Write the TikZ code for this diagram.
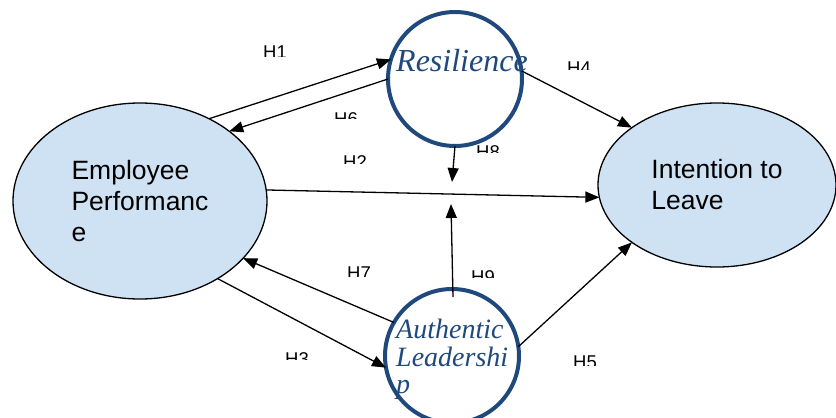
\documentclass[tikz,border=0pt]{standalone}
\usepackage{fontspec}
\setmainfont{Liberation Sans}
\newfontfamily\serifit{Liberation Serif}
\usetikzlibrary{shapes.geometric,arrows.meta,calc}
\definecolor{circblue}{RGB}{31,73,125}
\definecolor{ellfill}{RGB}{207,226,243}
\newcommand\hlab[4]{%
  \begin{scope}
    \clip (#1-3,#2-4) rectangle (#1+34,#3);
    \node[hlab] (#4) at (#1,#2) {#4};
  \end{scope}}
\begin{document}
\begin{tikzpicture}[x=1pt,y=-1pt,
  ell/.style={ellipse,draw=black,line width=1.3pt,fill=ellfill,outer sep=0pt,inner sep=0pt,align=left,font=\fontsize{26.5}{31}\selectfont},
  circ/.style={circle,draw=circblue,line width=4pt,minimum size=134pt,inner sep=0pt,outer sep=0pt},
  ctext/.style={text=circblue,inner sep=0pt,align=left},
  arr/.style={line width=1.3pt,-{Triangle[length=14pt,width=11pt]}},
  hlab/.style={font=\fontsize{18.5}{20}\selectfont,inner sep=0pt,anchor=north west}]
\useasboundingbox (0,0) rectangle (836,418);
\clip (0,0) rectangle (836,418);
\fill[white] (0,0) rectangle (836,418);
% main constructs
\node[ell,minimum width=254pt,minimum height=196pt] (emp) at (140,201) {Employee\\Performanc\\e};
\node[ell,minimum width=238pt,minimum height=164pt] (int) at (717,185) {Intention to\\Leave};
\node[circ] (res) at (455,79) {};
\node[circ] (aut) at (452,356) {};
% free ends of the moderation arrows
\coordinate (h8end) at (452,182);
\coordinate (h9end) at (451,204);
\coordinate (h9start) at ($(aut.north)+(1,8)$);
% connectors
\draw[arr] (emp.50) -- (res.163);
\draw[arr] (res.180) -- (emp.38);
\draw[arr] (emp.5) -- (int.186);
\draw[arr] (emp.-45) -- (aut.190);
\draw[arr] (aut.150) -- (emp.-29);
\draw[arr] (res.7) -- (int.146);
\draw[arr] (aut.8) -- (int.214);
\draw[arr] (res.-90) -- (h8end);
\draw[arr] (h9start) -- (h9end);
% construct labels
\node[ctext,anchor=base west,font=\serifit\itshape\fontsize{32}{34}\selectfont] (restext) at (396,71) {Resilience};
\node[ctext,anchor=north west,font=\serifit\itshape\fontsize{28}{27.5}\selectfont] (auttext) at (396,319) {Authentic\\Leadershi\\p};
% hypothesis labels (cut off at the bottom as in the source)
\hlab{263}{46}{56}{H1}
\hlab{334}{112}{118}{H6}
\hlab{343}{155}{163}{H2}
\hlab{476}{145}{152}{H8}
\hlab{567}{62}{69}{H4}
\hlab{347}{267}{276}{H7}
\hlab{471}{270}{277}{H9}
\hlab{285}{352}{359}{H3}
\hlab{573}{356}{365}{H5}
\end{tikzpicture}
\end{document}
